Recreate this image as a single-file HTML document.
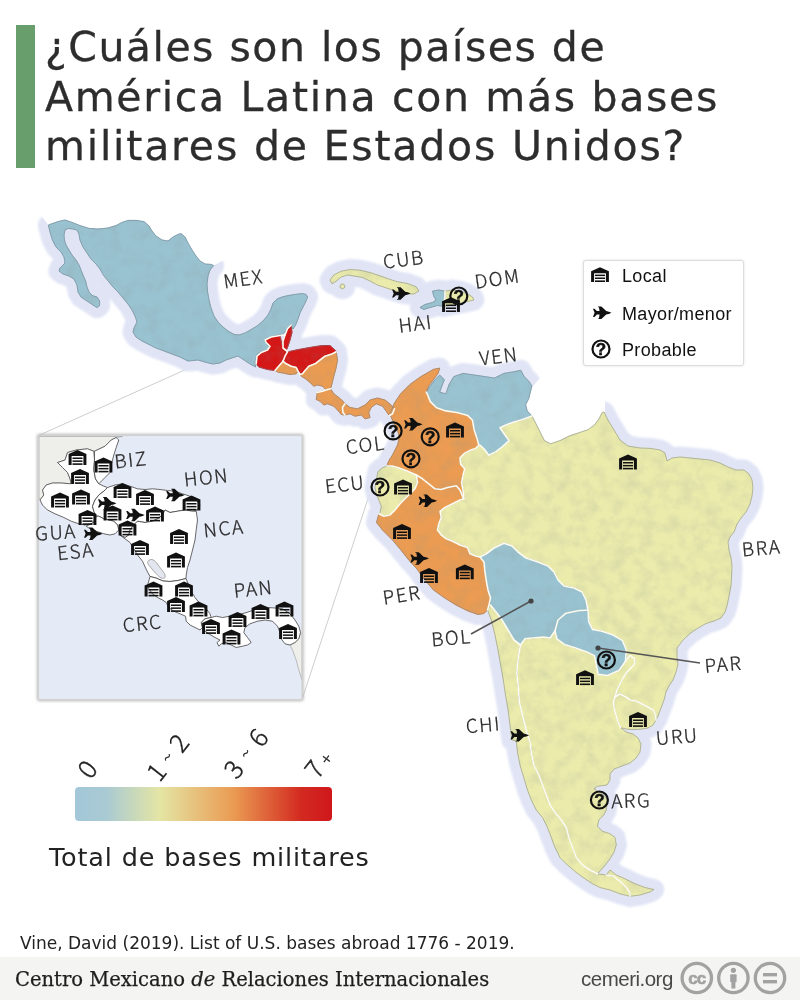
<!DOCTYPE html>
<html lang="es"><head><meta charset="utf-8"><title>Bases militares de Estados Unidos en América Latina</title>
<style>
html,body{margin:0;padding:0;background:#fff}
body{width:800px;height:1000px;position:relative;overflow:hidden;font-family:"Liberation Sans",sans-serif}
#bar{position:absolute;left:15.5px;top:25px;width:19.5px;height:142.5px;background:#689e6c}
h1{position:absolute;left:45px;top:22.8px;-webkit-text-stroke:0.3px #2d2d2d;margin:0;font-family:"DejaVu Sans","Liberation Sans",sans-serif;font-weight:400;font-size:41px;line-height:49.7px;color:#2d2d2d;white-space:nowrap;letter-spacing:1.5px}
#map{position:absolute;left:0;top:0}
#legend{position:absolute;left:583px;top:260px;width:159px;height:104px;border:1px solid #dcdcdc;border-radius:3px;background:#fff;box-shadow:0 0 3px rgba(0,0,0,.12)}
#legend div{position:absolute;left:38px;font-size:18px;letter-spacing:0.35px;color:#111;white-space:nowrap}
#total{position:absolute;left:49px;top:842px;font-family:"DejaVu Sans","Liberation Sans",sans-serif;font-size:25.5px;letter-spacing:0.84px;color:#222;white-space:nowrap}
#src{position:absolute;left:20px;top:933px;font-family:"DejaVu Sans","Liberation Sans",sans-serif;font-size:17px;color:#222;white-space:nowrap}
#foot{position:absolute;left:0;top:956.5px;width:800px;height:43.5px;background:#f4f5f3}
#foot .l{position:absolute;left:15px;top:11.8px;font-family:"DejaVu Serif","Liberation Serif",serif;font-size:19.55px;color:#1e1e1e;-webkit-text-stroke:0.25px #1e1e1e;white-space:nowrap}
#foot .r{position:absolute;left:581px;top:10px;font-size:20.5px;letter-spacing:-0.5px;color:#484848;white-space:nowrap}
</style></head><body>
<div id="bar"></div>
<h1>¿Cuáles son los países de<br><span style="letter-spacing:1.68px">América Latina con más bases</span><br><span style="letter-spacing:1.8px">militares de Estados Unidos?</span></h1>
<svg id="map" width="800" height="1000" viewBox="0 0 800 1000">
<defs>
<path id="cMEX" d="M48.4,225.0L58.0,221.6L65.0,220.0L72.0,222.4L80.0,225.6L89.0,228.4L98.0,229.0L108.0,228.0L116.0,225.6L122.0,222.4L128.0,220.4L136.0,220.4L144.0,221.6L149.0,226.0L152.0,231.0L156.0,236.0L162.0,240.0L168.0,241.0L173.0,237.0L178.0,234.4L181.0,233.6L185.0,237.0L188.0,243.0L192.0,250.0L196.0,256.0L200.0,261.0L205.0,264.0L211.0,264.4L213.6,265.6L210.0,270.0L208.0,276.0L207.0,284.0L207.6,292.0L209.0,300.0L211.0,308.0L214.0,316.0L218.0,322.0L223.0,327.0L228.0,331.0L234.0,334.4L239.0,335.0L245.0,333.0L251.0,329.6L257.0,326.0L263.0,321.0L268.0,315.0L271.0,309.0L273.0,303.0L277.0,299.0L282.0,297.0L288.0,295.6L295.0,294.4L302.0,293.6L306.0,294.4L307.6,297.0L305.6,302.0L303.0,307.0L300.0,313.0L298.0,319.0L295.6,325.0L293.0,329.0L291.0,326.0L288.0,329.0L285.0,332.0L282.0,334.4L274.0,336.0L268.0,338.0L264.0,340.0L267.0,344.0L270.0,348.0L266.0,350.0L261.0,352.0L257.0,354.0L256.0,358.0L255.0,362.0L255.6,367.0L250.0,364.0L244.0,360.0L238.0,356.0L232.0,358.0L226.0,360.0L220.0,363.0L213.0,364.0L206.0,362.4L198.0,360.0L188.0,361.0L180.0,357.0L172.0,354.0L164.0,351.0L156.0,348.0L148.0,344.0L142.0,341.0L136.0,337.0L133.0,332.0L134.0,328.0L137.0,322.0L135.0,316.0L132.0,310.0L128.0,304.0L123.0,298.0L118.0,292.0L113.0,287.0L109.0,282.0L104.0,276.0L100.0,269.0L96.0,264.0L91.0,259.0L87.0,253.0L83.0,247.0L80.0,240.0L79.0,234.0L77.0,230.0L73.0,229.0L68.0,228.4L65.0,230.0L64.0,235.0L64.4,240.0L66.0,245.0L69.0,250.0L72.0,255.0L76.0,260.0L79.0,265.0L81.0,270.0L83.0,275.0L85.6,281.0L87.0,287.0L89.0,292.0L92.4,295.6L97.0,297.0L99.6,301.0L99.6,305.6L97.0,307.6L93.0,305.0L87.0,301.0L81.0,297.0L78.0,292.0L77.0,285.0L74.0,279.0L69.0,276.0L63.0,274.0L59.0,271.0L60.0,268.0L65.0,263.0L64.0,257.0L61.0,252.0L56.0,247.0L52.4,240.0L50.0,232.0Z"/>
<path id="cCUB" d="M330.0,280.0L333.8,275.0L341.2,271.2L350.0,269.5L360.0,270.2L370.0,272.5L380.0,275.8L388.8,279.0L397.5,281.8L407.5,283.5L416.2,286.8L419.0,291.0L413.8,294.0L405.0,293.8L397.5,292.0L392.5,290.0L385.0,287.5L377.5,285.0L370.0,281.0L362.5,277.5L355.0,276.2L347.5,275.0L341.2,277.0L336.2,281.2L332.0,283.8Z"/>
<path id="cCUB2" d="M340.0,286.2L341.0,284.2L343.0,284.0L344.8,285.5L344.5,287.8L342.5,288.8L340.5,288.0Z"/>
<path id="cHAI" d="M432.5,291.2L438.8,290.0L445.0,291.2L445.0,297.5L443.8,302.5L442.5,306.2L437.5,305.5L430.0,307.5L423.8,309.5L420.0,307.5L425.0,304.5L432.5,302.5L436.2,300.0L433.8,296.2Z"/>
<path id="cDOM" d="M445.0,291.2L452.5,290.0L460.0,291.2L467.5,293.8L472.5,297.0L473.8,300.0L468.8,301.2L462.5,302.5L456.2,303.8L450.0,305.0L443.8,306.2L443.8,302.5L445.0,297.5Z"/>
<path id="cBRA" d="M478.8,445.3L480.3,445.3L485.0,450.0L488.8,455.3L495.9,451.6L502.2,446.9L509.1,440.6L505.0,435.0L500.0,427.8L505.9,425.0L514.1,421.9L524.1,419.1L531.9,415.9L535.0,421.9L539.7,431.2L544.4,440.6L550.6,443.8L560.0,440.6L569.4,435.9L578.8,432.8L588.1,429.7L594.4,425.0L599.1,418.8L602.2,412.5L604.0,412.0L608.0,420.0L614.0,430.0L620.0,440.0L628.0,446.0L640.0,448.0L650.0,448.4L660.0,450.0L665.0,453.0L667.0,461.0L672.0,458.0L680.0,457.0L690.0,458.0L700.0,459.0L710.0,460.0L720.0,463.0L728.0,467.0L736.0,470.0L744.0,470.0L749.0,474.0L752.0,480.0L753.0,488.0L752.0,496.0L750.0,504.0L746.0,512.0L741.0,518.0L737.0,524.0L734.0,532.0L730.0,537.0L728.0,542.0L729.0,550.0L731.0,558.0L732.0,566.0L731.6,576.0L731.0,586.0L729.0,596.0L727.0,606.0L725.0,612.0L721.0,618.0L714.0,621.0L706.0,623.5L698.0,628.0L690.0,633.5L683.0,640.0L677.0,648.0L677.0,657.0L678.0,664.0L676.0,672.0L673.0,680.0L669.0,686.0L666.0,692.0L664.0,700.0L661.0,708.0L658.0,716.0L656.0,720.0L655.6,715.0L653.0,710.0L648.0,707.0L642.0,704.0L636.0,701.0L630.0,700.0L626.0,697.0L620.0,694.0L615.0,697.0L617.0,690.0L620.0,684.0L623.0,678.0L627.0,672.0L632.0,667.0L635.0,663.5L634.5,658.5L630.0,655.5L625.5,661.3L626.3,650.0L622.5,640.6L613.1,635.0L601.9,631.3L592.5,629.4L588.8,621.9L588.0,610.0L586.0,600.0L582.0,592.0L574.0,588.0L564.0,586.0L558.0,580.0L554.0,572.0L548.0,566.0L538.0,562.0L526.0,558.0L518.0,552.0L512.0,546.0L504.0,543.2L494.0,548.0L486.0,554.0L480.0,557.0L476.3,556.3L470.0,553.8L467.5,547.5L460.0,545.0L452.5,541.3L446.3,538.8L441.3,535.0L437.5,530.0L438.8,523.8L441.3,517.5L440.0,511.3L445.0,507.5L452.5,503.8L460.0,500.0L463.8,498.8L463.1,490.6L461.6,482.8L463.1,475.0L464.7,468.8L460.6,464.1L460.0,457.8L464.7,453.1L470.9,450.0L475.6,448.4Z"/>
<path id="cVEN" d="M426.2,392.2L430.3,385.9L435.0,379.7L439.7,375.0L444.4,379.7L441.9,385.9L439.7,392.2L445.9,393.8L449.1,384.4L453.8,376.6L463.1,373.4L474.1,375.0L485.0,376.6L494.4,378.1L503.8,373.4L513.1,371.9L520.9,370.3L524.1,376.6L528.8,381.2L531.9,385.9L530.3,392.2L528.8,398.4L525.6,404.7L527.2,410.9L531.9,415.9L524.1,419.1L514.1,421.9L505.9,425.0L500.0,427.8L505.0,435.0L509.1,440.6L502.2,446.9L495.9,451.6L488.8,455.3L485.0,450.0L480.3,445.3L478.8,445.3L477.2,439.1L474.1,429.7L472.5,420.3L467.8,415.6L456.9,412.5L445.9,410.9L436.6,407.8L430.3,401.6L427.2,393.8Z"/>
<path id="cCOL" d="M391.2,410.9L394.4,403.1L400.6,393.8L410.0,384.4L420.9,376.6L433.4,369.4L439.7,368.1L438.1,373.4L433.4,379.7L428.8,385.9L426.2,392.2L427.2,393.8L430.3,401.6L436.6,407.8L445.9,410.9L456.9,412.5L467.8,415.6L472.5,420.3L474.1,429.7L477.2,439.1L478.8,445.3L475.6,448.4L470.9,450.0L464.7,453.1L460.0,457.8L460.6,464.1L464.7,468.8L463.1,475.0L461.6,482.8L463.1,490.6L463.8,498.8L462.5,496.3L460.0,490.0L456.3,485.8L447.5,487.5L441.0,489.5L435.0,488.8L428.8,483.8L422.5,478.8L416.3,475.0L407.0,471.0L397.5,467.5L392.0,466.0L387.0,466.0L388.0,462.5L390.0,458.8L392.5,455.0L395.0,450.0L397.5,445.0L398.8,440.0L398.8,435.0L397.5,430.0L395.0,425.0L392.5,420.0L390.0,414.4Z"/>
<path id="cECU" d="M387.0,466.0L392.0,466.0L397.5,467.5L407.0,471.0L416.3,475.0L417.5,482.5L415.0,488.8L410.0,493.8L405.0,498.8L400.0,503.8L395.0,510.0L390.0,515.0L383.8,516.3L378.8,513.8L380.0,512.5L381.3,506.3L378.8,500.0L376.3,493.8L375.0,487.5L376.3,480.0L378.0,471.5L382.0,468.0Z"/>
<path id="cPER" d="M378.8,513.8L383.8,516.3L390.0,515.0L395.0,510.0L400.0,503.8L405.0,498.8L410.0,493.8L415.0,488.8L417.5,482.5L416.3,475.0L422.5,478.8L428.8,483.8L435.0,488.8L441.0,489.5L447.5,487.5L456.3,485.8L460.0,490.0L462.5,496.3L463.8,498.8L460.0,500.0L452.5,503.8L445.0,507.5L440.0,511.3L441.3,517.5L438.8,523.8L437.5,530.0L441.3,535.0L446.3,538.8L452.5,541.3L460.0,545.0L467.5,547.5L470.0,553.8L476.3,556.3L480.0,557.0L484.0,562.0L485.0,572.0L486.5,582.0L488.0,590.0L490.5,598.0L489.0,605.0L487.5,610.0L484.0,613.5L478.0,614.5L468.0,611.0L456.0,605.0L444.0,597.5L433.5,590.0L424.5,579.5L417.0,569.0L408.8,560.0L400.5,549.5L392.3,539.8L387.5,535.0L382.5,530.0L376.5,522.5Z"/>
<path id="cBOL" d="M480.0,557.0L486.0,554.0L494.0,548.0L504.0,543.2L512.0,546.0L518.0,552.0L526.0,558.0L538.0,562.0L548.0,566.0L554.0,572.0L558.0,580.0L564.0,586.0L574.0,588.0L582.0,592.0L586.0,600.0L588.0,610.0L578.0,610.8L566.0,613.2L558.0,620.0L555.0,631.0L550.0,638.0L543.8,637.0L532.5,638.0L525.0,638.8L520.5,645.0L514.0,640.0L508.0,630.0L502.0,620.0L496.0,612.0L490.5,605.0L490.5,598.0L488.0,590.0L486.5,582.0L485.0,572.0L484.0,562.0Z"/>
<path id="cPAR" d="M555.0,631.0L558.0,620.0L566.0,613.2L578.0,610.8L588.0,610.0L588.8,621.9L592.5,629.4L601.9,631.3L613.1,635.0L622.5,640.6L626.3,650.0L625.5,661.3L618.8,670.6L607.5,675.5L598.1,674.4L596.3,665.0L594.4,655.6L586.9,651.9L575.6,648.1L564.4,644.4L556.9,638.8Z"/>
<path id="cARG" d="M520.5,645.0L525.0,638.8L532.5,638.0L543.8,637.0L550.0,638.0L555.0,631.0L556.9,638.8L564.4,644.4L575.6,648.1L586.9,651.9L594.4,655.6L596.3,665.0L598.1,674.4L607.5,675.5L618.8,670.6L625.5,661.3L630.0,655.5L634.5,658.5L635.0,663.5L632.0,667.0L627.0,672.0L623.0,678.0L620.0,684.0L617.0,690.0L615.0,697.0L613.5,701.0L614.0,708.0L616.0,715.0L618.0,722.0L620.5,727.5L626.0,732.0L633.0,734.0L638.0,738.0L641.0,744.0L640.0,752.0L636.0,758.0L630.0,763.0L622.0,766.0L614.0,769.0L610.0,774.0L610.0,780.0L607.0,785.0L597.5,786.3L593.8,788.8L602.5,793.8L607.5,800.0L606.3,810.0L603.8,815.0L598.8,820.0L597.5,826.3L602.5,831.3L610.0,833.8L615.0,837.5L616.3,845.0L613.8,852.5L610.0,858.8L606.3,863.8L601.0,870.0L597.5,873.8L590.0,870.0L582.5,865.0L576.3,857.5L572.5,847.5L568.8,837.5L566.3,827.5L561.3,820.0L555.0,812.5L550.0,805.0L546.3,795.0L542.5,785.0L538.8,775.0L533.8,765.0L531.3,752.5L530.0,742.0L526.9,732.5L523.1,717.5L519.4,702.5L518.3,687.5L516.8,672.5L518.3,657.5Z"/>
<path id="cCHI" d="M487.5,610.0L491.3,620.0L495.0,635.0L498.0,650.0L500.6,665.0L503.3,680.0L505.5,695.0L508.1,710.0L510.0,725.0L511.9,740.0L516.3,741.0L517.5,752.5L520.0,765.0L523.8,777.5L527.5,790.0L531.3,800.0L536.3,810.0L542.5,817.5L547.5,827.5L551.3,837.5L555.0,847.5L560.0,857.5L567.5,865.0L576.3,872.5L585.0,878.8L592.5,883.8L600.0,887.5L610.0,890.0L620.0,893.8L630.0,896.3L630.0,892.5L626.3,887.5L620.0,881.3L613.8,876.3L606.3,875.0L597.5,873.8L590.0,870.0L582.5,865.0L576.3,857.5L572.5,847.5L568.8,837.5L566.3,827.5L561.3,820.0L555.0,812.5L550.0,805.0L546.3,795.0L542.5,785.0L538.8,775.0L533.8,765.0L531.3,752.5L530.0,742.0L526.9,732.5L523.1,717.5L519.4,702.5L518.3,687.5L516.8,672.5L518.3,657.5L520.5,645.0L514.0,640.0L508.0,630.0L502.0,620.0L496.0,612.0L490.5,605.0Z"/>
<path id="cTDF" d="M606.3,875.0L610.0,870.0L616.3,875.0L625.0,878.8L635.0,883.8L645.0,887.5L653.8,889.5L650.0,892.0L640.0,895.0L630.0,896.3L630.0,892.5L626.3,887.5L620.0,881.3L613.8,876.3Z"/>
<path id="cURU" d="M615.0,697.0L620.0,694.0L626.0,697.0L630.0,700.0L636.0,701.0L642.0,704.0L648.0,707.0L653.0,710.0L655.6,715.0L656.0,720.0L653.0,725.0L648.0,728.0L640.0,729.3L632.0,729.6L626.0,729.0L620.5,727.5L618.0,722.0L616.0,715.0L614.0,708.0L613.5,701.0Z"/>
<path id="cGUA" d="M265.0,340.0L271.2,337.0L280.0,335.5L282.0,345.0L284.5,350.0L287.5,351.8L285.0,356.2L283.0,361.2L282.0,362.5L277.5,367.5L275.0,370.5L267.5,369.5L258.8,367.0L256.2,363.8L257.0,356.2L261.2,352.5L267.5,350.0L270.0,346.2L266.2,342.5Z"/>
<path id="cBIZ" d="M291.2,325.0L292.0,332.5L290.0,340.0L288.0,346.2L286.2,350.5L283.0,348.0L283.0,341.2L285.0,335.0L287.5,328.8Z"/>
<path id="cHON" d="M287.5,352.0L293.8,350.5L302.5,348.8L312.5,347.0L322.5,345.5L330.0,345.5L336.2,351.2L332.5,353.8L325.0,356.2L320.0,360.0L315.0,363.8L308.8,366.2L305.5,370.0L302.5,373.8L300.0,374.5L298.0,371.2L296.2,367.5L291.2,366.2L286.2,363.8L283.0,361.2L285.0,356.2Z"/>
<path id="cESA" d="M275.0,370.5L277.5,367.5L282.0,362.5L283.0,361.2L286.2,363.8L291.2,366.2L296.2,367.5L298.0,371.2L296.2,373.8L290.0,374.5L282.5,373.0L277.5,372.0Z"/>
<path id="cNCA" d="M336.2,351.8L337.5,360.0L336.2,367.5L333.8,376.2L332.0,383.8L330.5,388.8L326.2,390.0L322.5,386.2L317.5,385.0L313.8,386.2L310.0,382.5L305.5,378.8L301.2,376.2L300.0,374.5L302.5,373.8L305.5,370.0L308.8,366.2L315.0,363.8L320.0,360.0L325.0,356.2L332.5,353.8Z"/>
<path id="cCRC" d="M317.0,392.5L322.5,391.2L326.2,390.0L330.5,388.8L333.8,393.8L338.8,397.5L343.0,401.2L345.0,403.8L342.5,407.5L343.0,412.5L345.0,415.0L341.2,414.5L337.5,410.0L333.8,406.2L327.5,403.8L323.8,405.0L320.0,401.2L316.2,399.5L317.0,395.0Z"/>
<path id="cPAN" d="M345.0,403.8L350.0,407.5L357.5,408.8L365.0,405.0L370.0,400.0L377.5,398.0L385.0,400.0L391.2,405.0L394.5,408.8L392.5,413.8L388.8,415.0L386.2,411.2L382.5,406.2L376.2,403.8L371.2,407.5L368.8,412.5L370.0,417.5L365.0,418.8L361.2,415.0L355.0,416.2L350.0,413.8L345.0,415.0L343.0,412.5L342.5,407.5Z"/>
<filter id="blur" x="-10%" y="-10%" width="120%" height="120%"><feGaussianBlur stdDeviation="1.3"/></filter>
<filter id="sh" x="-10%" y="-10%" width="120%" height="120%"><feGaussianBlur stdDeviation="1.5"/></filter>
<linearGradient id="grad" x1="0" x2="1" y1="0" y2="0">
<stop offset="0" stop-color="#a3c7d8"/><stop offset="0.12" stop-color="#a9cad4"/><stop offset="0.33" stop-color="#e4e5a4"/><stop offset="0.62" stop-color="#ea9a52"/><stop offset="0.88" stop-color="#d32a20"/><stop offset="1" stop-color="#cf171c"/>
</linearGradient>
<g id="wh"><path d="M0,4L8.9,0L17.8,4V14.8H14.8V6H3V14.8H0Z"/><rect x="3.9" y="7.4" width="10" height="1.5"/><rect x="3.9" y="10.3" width="10" height="1.5"/><rect x="3.9" y="13.2" width="10" height="1.6"/></g>
<path id="jet" d="M18.5,6.25L15.8,5.1L13.2,4.5L8.4,0H5V0.7H5.9L6.6,4.5H3.9L1.5,2.2H0L1.6,6.25L0,10.3H1.5L3.9,8H6.6L5.9,11.8H5V12.5H8.4L13.2,8L15.8,7.4Z"/>
<g id="qm"><circle cx="0.4" r="8.5" fill="none" stroke="#111" stroke-width="2.2"/><text x="0.4" y="6" text-anchor="middle" font-family="Liberation Sans,sans-serif" font-weight="700" font-size="17" stroke="#111" stroke-width="0.5">?</text></g>
<clipPath id="haloclip"><path clip-rule="evenodd" d="M0,1000L0,214L40,214L48.4,225.0L58.0,221.6L65.0,220.0L72.0,222.4L80.0,225.6L89.0,228.4L98.0,229.0L108.0,228.0L116.0,225.6L122.0,222.4L128.0,220.4L136.0,220.4L144.0,221.6L149.0,226.0L152.0,231.0L156.0,236.0L162.0,240.0L168.0,241.0L173.0,237.0L178.0,234.4L181.0,233.6L185.0,237.0L188.0,243.0L192.0,250.0L196.0,256.0L200.0,261.0L205.0,264.0L211.0,264.4L213.6,265.6L228,258L800,150L800,1000ZM533,386L541,377L560,372L605,392L605,414L600,440L560,450L535,445L520,410L527,395Z"/></clipPath>
<filter id="relief" x="0" y="0" width="100%" height="100%"><feTurbulence type="fractalNoise" baseFrequency="0.075" numOctaves="4" seed="7"/><feColorMatrix type="matrix" values="0 0 0 0 0.25  0 0 0 0 0.3  0 0 0 0 0.3  1.6 0 0 0 -0.62"/></filter>
<clipPath id="landclip"><use href="#cMEX"/><use href="#cCUB"/><use href="#cCUB2"/><use href="#cHAI"/><use href="#cDOM"/><use href="#cBRA"/><use href="#cVEN"/><use href="#cCOL"/><use href="#cECU"/><use href="#cPER"/><use href="#cBOL"/><use href="#cPAR"/><use href="#cARG"/><use href="#cCHI"/><use href="#cTDF"/><use href="#cURU"/><use href="#cGUA"/><use href="#cBIZ"/><use href="#cHON"/><use href="#cESA"/><use href="#cNCA"/><use href="#cCRC"/><use href="#cPAN"/></clipPath>
<clipPath id="insetclip"><rect x="38.5" y="435.5" width="263.5" height="264"/></clipPath>
</defs>
<!-- connector lines from inset to map -->
<g stroke="#c8c8c8" stroke-width="0.9" fill="none"><path d="M38.5,435.5L263,335"/><path d="M302,699.5L385,447"/></g>
<!-- halo -->
<g clip-path="url(#haloclip)"><g fill="#e0e4f5" stroke="#e0e4f5" stroke-width="21" stroke-linejoin="round" filter="url(#blur)">
<use href="#cMEX"/>
<use href="#cCUB"/>
<use href="#cCUB2"/>
<use href="#cHAI"/>
<use href="#cDOM"/>
<use href="#cBRA"/>
<use href="#cVEN"/>
<use href="#cCOL"/>
<use href="#cECU"/>
<use href="#cPER"/>
<use href="#cBOL"/>
<use href="#cPAR"/>
<use href="#cARG"/>
<use href="#cCHI"/>
<use href="#cTDF"/>
<use href="#cURU"/>
<use href="#cGUA"/>
<use href="#cBIZ"/>
<use href="#cHON"/>
<use href="#cESA"/>
<use href="#cNCA"/>
<use href="#cCRC"/>
<use href="#cPAN"/>
</g></g>
<!-- fills -->
<g stroke-linejoin="round">
<use href="#cMEX" fill="#9ac3d1" stroke="#9ac3d1" stroke-width="1"/>
<use href="#cCUB" fill="#ebebac" stroke="#ebebac" stroke-width="1"/>
<use href="#cCUB2" fill="#ebebac" stroke="#ebebac" stroke-width="1"/>
<use href="#cHAI" fill="#9ac3d1" stroke="#9ac3d1" stroke-width="1"/>
<use href="#cDOM" fill="#ebebac" stroke="#ebebac" stroke-width="1"/>
<use href="#cBRA" fill="#ebebac" stroke="#ebebac" stroke-width="1"/>
<use href="#cVEN" fill="#9ac3d1" stroke="#9ac3d1" stroke-width="1"/>
<use href="#cCOL" fill="#eb9c52" stroke="#eb9c52" stroke-width="1"/>
<use href="#cECU" fill="#ebebac" stroke="#ebebac" stroke-width="1"/>
<use href="#cPER" fill="#eb9c52" stroke="#eb9c52" stroke-width="1"/>
<use href="#cBOL" fill="#9ac3d1" stroke="#9ac3d1" stroke-width="1"/>
<use href="#cPAR" fill="#9ac3d1" stroke="#9ac3d1" stroke-width="1"/>
<use href="#cARG" fill="#ebebac" stroke="#ebebac" stroke-width="1"/>
<use href="#cCHI" fill="#ebebac" stroke="#ebebac" stroke-width="1"/>
<use href="#cTDF" fill="#ebebac" stroke="#ebebac" stroke-width="1"/>
<use href="#cURU" fill="#ebebac" stroke="#ebebac" stroke-width="1"/>
<use href="#cGUA" fill="#d41818" stroke="#d41818" stroke-width="1"/>
<use href="#cBIZ" fill="#d41818" stroke="#d41818" stroke-width="1"/>
<use href="#cHON" fill="#d41818" stroke="#d41818" stroke-width="1"/>
<use href="#cESA" fill="#eb9c52" stroke="#eb9c52" stroke-width="1"/>
<use href="#cNCA" fill="#eb9c52" stroke="#eb9c52" stroke-width="1"/>
<use href="#cCRC" fill="#eb9c52" stroke="#eb9c52" stroke-width="1"/>
<use href="#cPAN" fill="#eb9c52" stroke="#eb9c52" stroke-width="1"/>
</g>
<g clip-path="url(#landclip)"><rect x="30" y="200" width="740" height="720" filter="url(#relief)" opacity="0.22"/></g>
<g fill="none" stroke="#6f7886" stroke-opacity="0.6" stroke-width="0.8" stroke-linejoin="round">
<use href="#cMEX"/>
<use href="#cCUB"/>
<use href="#cCUB2"/>
<use href="#cHAI"/>
<use href="#cDOM"/>
<use href="#cBRA"/>
<use href="#cVEN"/>
<use href="#cCOL"/>
<use href="#cECU"/>
<use href="#cPER"/>
<use href="#cBOL"/>
<use href="#cPAR"/>
<use href="#cARG"/>
<use href="#cCHI"/>
<use href="#cTDF"/>
<use href="#cURU"/>
<use href="#cGUA"/>
<use href="#cBIZ"/>
<use href="#cHON"/>
<use href="#cESA"/>
<use href="#cNCA"/>
<use href="#cCRC"/>
<use href="#cPAN"/>
</g>
<g fill="none" stroke="#fdfcf2" stroke-width="1.6" stroke-linejoin="round" stroke-linecap="round">

<path d="M426.2,392.2L427.2,393.8L430.3,401.6L436.6,407.8L445.9,410.9L456.9,412.5L467.8,415.6L472.5,420.3L474.1,429.7L477.2,439.1L478.8,445.3"/>
<path d="M478.8,445.3L475.6,448.4L470.9,450.0L464.7,453.1L460.0,457.8L460.6,464.1L464.7,468.8L463.1,475.0L461.6,482.8L463.1,490.6L463.8,498.8"/>
<path d="M416.3,475.0L422.5,478.8L428.8,483.8L435.0,488.8L441.0,489.5L447.5,487.5L456.3,485.8L460.0,490.0L462.5,496.3L463.8,498.8"/>
<path d="M387.0,466.0L392.0,466.0L397.5,467.5L407.0,471.0L416.3,475.0"/>
<path d="M378.8,513.8L383.8,516.3L390.0,515.0L395.0,510.0L400.0,503.8L405.0,498.8L410.0,493.8L415.0,488.8L417.5,482.5L416.3,475.0"/>
<path d="M463.8,498.8L460.0,500.0L452.5,503.8L445.0,507.5L440.0,511.3L441.3,517.5L438.8,523.8L437.5,530.0L441.3,535.0L446.3,538.8L452.5,541.3L460.0,545.0L467.5,547.5L470.0,553.8L476.3,556.3L480.0,557.0"/>
<path d="M480.0,557.0L484.0,562.0L485.0,572.0L486.5,582.0L488.0,590.0L490.5,598.0L489.0,605.0L487.5,610.0"/>
<path d="M480.0,557.0L486.0,554.0L494.0,548.0L504.0,543.2L512.0,546.0L518.0,552.0L526.0,558.0L538.0,562.0L548.0,566.0L554.0,572.0L558.0,580.0L564.0,586.0L574.0,588.0L582.0,592.0L586.0,600.0L588.0,610.0"/>
<path d="M588.0,610.0L578.0,610.8L566.0,613.2L558.0,620.0L555.0,631.0"/>
<path d="M555.0,631.0L550.0,638.0L543.8,637.0L532.5,638.0L525.0,638.8L520.5,645.0"/>
<path d="M520.5,645.0L514.0,640.0L508.0,630.0L502.0,620.0L496.0,612.0L490.5,605.0"/>
<path d="M588.0,610.0L588.8,621.9L592.5,629.4L601.9,631.3L613.1,635.0L622.5,640.6L626.3,650.0L625.5,661.3"/>
<path d="M555.0,631.0L556.9,638.8L564.4,644.4L575.6,648.1L586.9,651.9L594.4,655.6L596.3,665.0L598.1,674.4L607.5,675.5L618.8,670.6L625.5,661.3"/>
<path d="M625.5,661.3L630.0,655.5L634.5,658.5L635.0,663.5L632.0,667.0L627.0,672.0L623.0,678.0L620.0,684.0L617.0,690.0L615.0,697.0"/>
<path d="M615.0,697.0L613.5,701.0L614.0,708.0L616.0,715.0L618.0,722.0L620.5,727.5"/>
<path d="M615.0,697.0L620.0,694.0L626.0,697.0L630.0,700.0L636.0,701.0L642.0,704.0L648.0,707.0L653.0,710.0L655.6,715.0L656.0,720.0"/>
<path d="M520.5,645.0L518.3,657.5L516.8,672.5L518.3,687.5L519.4,702.5L523.1,717.5L526.9,732.5L530.0,742.0L531.3,752.5L533.8,765.0L538.8,775.0L542.5,785.0L546.3,795.0L550.0,805.0L555.0,812.5L561.3,820.0L566.3,827.5L568.8,837.5L572.5,847.5L576.3,857.5L582.5,865.0L590.0,870.0L597.5,873.8"/>
<path d="M478.8,445.3L480.3,445.3L485.0,450.0L488.8,455.3L495.9,451.6L502.2,446.9L509.1,440.6L505.0,435.0L500.0,427.8L505.9,425.0L514.1,421.9L524.1,419.1L531.9,415.9"/>
<path d="M445.0,291.2L445.0,297.5L443.8,302.5L443.8,306.2"/>
<path d="M606.3,875.0L613.8,876.3L620.0,881.3L626.3,887.5L630.0,892.5L630.0,896.3"/>
<path d="M394.5,408.8L392.5,413.8L389.5,415.5"/>
<path d="M256.2,363.8L257.0,356.2L261.2,352.5L267.5,350.0L270.0,346.2L266.2,342.5L265.0,340.0L271.2,337.0L280.0,335.5L285.0,335.0"/>
<path d="M291.2,325.0L287.5,328.8L285.0,335.0L283.0,341.2L283.0,348.0L286.2,350.5L287.5,351.8"/>
<path d="M287.5,351.8L285.0,356.2L283.0,361.2"/>
<path d="M283.0,361.2L282.0,362.5L277.5,367.5L275.0,370.5"/>
<path d="M283.0,361.2L286.2,363.8L291.2,366.2L296.2,367.5L298.0,371.2L300.0,374.5"/>
<path d="M300.0,374.5L302.5,373.8L305.5,370.0L308.8,366.2L315.0,363.8L320.0,360.0L325.0,356.2L332.5,353.8L336.2,351.8"/>
<path d="M317.0,392.5L322.5,391.2L326.2,390.0L330.5,388.8"/>
<path d="M345.0,403.8L342.5,407.5L343.0,412.5L345.0,415.0"/>
</g>
<!-- leader lines -->
<g stroke="#555" stroke-width="1.6" fill="#444"><path d="M531,601L471,634"/><path d="M598,648L700,663"/><circle cx="531" cy="601" r="2.6" stroke="none"/><circle cx="598" cy="648" r="2.6" stroke="none"/></g>
<!-- inset -->
<rect x="37" y="434" width="266.5" height="267" rx="2" fill="#b8b8b8" filter="url(#sh)"/>
<rect x="38.5" y="435.5" width="263.5" height="264" fill="#e5eaf7"/>
<g clip-path="url(#insetclip)">
<path d="M39.0,436.5L122.5,436.5L116.2,437.5L111.2,440.0L105.0,446.2L94.5,451.2L87.5,448.8L76.2,450.0L67.5,452.5L65.0,460.0L57.5,462.5L62.5,467.5L67.5,472.5L70.0,478.8L71.2,483.8L61.2,483.0L52.5,483.0L46.2,485.0L42.5,490.0L43.8,495.0L40.0,500.0L39.0,497.5Z" fill="#eeeeea" stroke="#999" stroke-width="0.6"/>
<path d="M295.0,642.5L298.8,638.8L300.5,632.5L302.0,633.8L302.0,680.0L298.8,670.0L296.2,660.0L292.5,650.0L290.0,645.0Z" fill="#eeeeea" stroke="#999" stroke-width="0.6"/>
<path d="M57.5,462.5L65.0,460.0L67.5,452.5L76.2,450.0L87.5,448.8L93.8,451.2L94.5,460.0L93.8,470.0L95.5,478.8L98.8,483.8L103.8,486.2L107.5,487.5L103.8,491.2L98.8,495.0L95.0,500.0L92.5,506.2L93.8,511.2L96.2,516.2L95.0,521.2L91.2,523.8L85.0,525.0L78.8,523.8L71.2,521.2L63.8,517.5L55.0,513.8L47.5,510.0L42.5,505.0L40.0,500.0L43.8,495.0L42.5,490.0L46.2,485.0L52.5,483.0L61.2,483.0L71.2,483.8L70.0,478.8L67.5,472.5L62.5,467.5Z" fill="#ffffff" stroke="#444" stroke-width="0.8" stroke-linejoin="round"/>
<path d="M94.5,451.2L105.0,446.2L111.2,440.0L116.2,437.5L118.8,440.0L116.2,447.5L113.8,455.0L111.2,465.0L110.0,472.5L105.0,477.5L100.0,482.5L98.8,483.8L95.5,478.8L93.8,470.0L94.5,460.0Z" fill="#ffffff" stroke="#444" stroke-width="0.8" stroke-linejoin="round"/>
<path d="M107.5,487.5L115.0,485.0L122.5,483.8L130.0,486.2L137.5,488.8L145.0,489.5L152.5,488.8L160.0,489.5L167.5,490.5L175.0,491.2L182.5,493.8L190.0,496.2L196.2,500.0L200.0,505.0L197.5,510.0L192.5,511.2L185.0,510.0L177.5,511.2L170.0,512.5L165.0,510.0L162.5,515.0L157.5,518.8L152.5,521.2L145.0,522.5L137.5,521.2L133.8,525.0L130.0,530.0L128.8,535.0L125.0,537.5L120.0,535.0L118.8,530.0L117.5,525.0L113.8,521.2L108.8,520.0L103.8,518.8L98.8,516.2L96.2,516.2L93.8,511.2L92.5,506.2L95.0,500.0L98.8,495.0L103.8,491.2Z" fill="#ffffff" stroke="#444" stroke-width="0.8" stroke-linejoin="round"/>
<path d="M91.2,523.8L95.0,521.2L96.2,516.2L98.8,516.2L103.8,518.8L108.8,520.0L113.8,521.2L117.5,525.0L118.8,530.0L115.0,533.8L110.0,535.0L103.8,533.8L96.2,531.2L90.0,528.8L86.2,526.2Z" fill="#ffffff" stroke="#444" stroke-width="0.8" stroke-linejoin="round"/>
<path d="M120.0,535.0L125.0,537.5L128.8,535.0L130.0,530.0L133.8,525.0L137.5,521.2L145.0,522.5L152.5,521.2L157.5,518.8L162.5,515.0L165.0,510.0L170.0,512.5L177.5,511.2L185.0,510.0L192.5,511.2L196.2,511.2L197.5,520.0L196.2,530.0L195.0,540.0L192.5,550.0L190.0,560.0L187.5,567.5L186.2,575.0L186.0,578.5L178.0,580.5L170.0,581.5L163.0,581.0L156.0,578.0L150.0,576.5L146.5,570.0L142.5,561.2L137.5,555.0L133.8,548.8L130.0,542.5L125.0,538.8Z" fill="#ffffff" stroke="#444" stroke-width="0.8" stroke-linejoin="round"/>
<path d="M148.0,561.2C148.5,560.5 150.0,559.5 151.2,559.5C152.4,559.5 153.5,559.9 155.0,561.2C156.5,562.5 158.4,565.4 160.0,567.5C161.6,569.6 163.7,572.1 164.5,573.8C165.3,575.5 165.6,576.8 165.0,577.5C164.4,578.2 162.7,578.6 161.2,578.0C159.7,577.4 157.9,575.5 156.2,573.8C154.5,572.1 152.6,569.7 151.2,568.0C149.8,566.3 148.5,564.9 148.0,563.8C147.5,562.7 147.5,561.9 148.0,561.2Z" fill="#e3e6ee" stroke="#777" stroke-width="0.6"/>
<path d="M150.0,576.5L156.0,578.0L163.0,581.0L170.0,581.5L178.0,580.5L186.0,578.5L191.2,591.2L195.0,597.5L200.0,603.8L206.2,608.8L210.0,613.8L211.2,617.5L205.0,618.8L201.2,622.5L202.5,627.5L200.0,630.0L195.0,627.5L190.0,625.0L186.2,621.2L185.5,616.2L180.0,613.8L173.8,611.2L168.8,607.5L166.2,602.5L162.5,600.0L157.5,597.5L152.5,593.8L148.8,588.8L148.0,583.8Z" fill="#ffffff" stroke="#444" stroke-width="0.8" stroke-linejoin="round"/>
<path d="M211.2,617.5L216.2,616.2L222.5,617.5L230.0,616.2L237.5,614.5L245.0,613.0L252.5,610.5L260.0,606.2L267.5,607.5L275.0,608.0L282.5,608.8L290.0,613.8L295.0,620.0L298.8,626.2L300.5,632.5L298.8,638.8L295.0,642.5L290.0,645.0L285.0,643.8L281.2,638.8L280.0,632.5L277.5,626.2L272.5,621.2L265.0,620.0L257.5,621.2L250.0,623.8L245.0,627.5L243.8,632.5L247.5,637.5L251.2,642.5L247.5,645.0L242.5,646.2L236.2,647.5L231.2,645.0L226.2,642.5L221.2,643.8L218.8,646.2L217.0,642.5L220.0,640.0L215.0,637.5L208.8,633.8L203.8,630.0L202.5,627.5L201.2,622.5L205.0,618.8Z" fill="#ffffff" stroke="#444" stroke-width="0.8" stroke-linejoin="round"/>
</g>
<rect x="38.5" y="435.5" width="263.5" height="264" fill="none" stroke="#d2d2d2" stroke-width="1.2"/>
<!-- colour bar -->
<rect x="75" y="787" width="257" height="34" rx="4" fill="url(#grad)"/>
<g font-family="'Noto Sans CJK JP','Liberation Sans',sans-serif" font-weight="300" font-size="25.8" fill="#222" stroke="#222" stroke-width="0.35" text-anchor="middle">
<g transform="translate(87.2 769.2) rotate(-52)"><text x="0" y="9.5">0</text></g>
<g transform="translate(156.2 771.9) rotate(-52)"><text x="0" y="9.5">1</text><text x="18.3" y="6" font-size="17">~</text><text x="36.7" y="9.5">2</text></g>
<g transform="translate(233.6 769.1) rotate(-52)"><text x="0" y="9.5">3</text><text x="20" y="6" font-size="17">~</text><text x="40.1" y="9.5">6</text></g>
<g transform="translate(314.2 769.1) rotate(-52)"><text x="0" y="9.5">7</text><text x="15.6" y="9.6" font-size="17">+</text></g>
</g>
<!-- labels -->
<g font-family="'Noto Sans CJK JP','Liberation Sans',sans-serif" font-weight="300" font-size="18.8" fill="#2a2a2a" stroke="#2a2a2a" stroke-width="0.3" letter-spacing="1.6">
<text x="243.5" y="285.8" transform="rotate(-8 243.5 279)" text-anchor="middle">MEX</text>
<text x="403.8" y="266.2" transform="rotate(-7 403.8 259.4)" text-anchor="middle">CUB</text>
<text x="497.5" y="285.6" transform="rotate(-8 497.5 278.8)" text-anchor="middle">DOM</text>
<text x="415.6" y="330.6" transform="rotate(-7 415.6 323.8)" text-anchor="middle">HAI</text>
<text x="498.8" y="363.1" transform="rotate(-7 498.8 356.3)" text-anchor="middle">VEN</text>
<text x="365.6" y="451.8" transform="rotate(-7 365.6 445)" text-anchor="middle">COL</text>
<text x="345" y="491.2" transform="rotate(-6 345 484.4)" text-anchor="middle">ECU</text>
<text x="402" y="601.8" transform="rotate(-9 402 595)" text-anchor="middle">PER</text>
<text x="451.5" y="644.8" transform="rotate(-5 451.5 638)" text-anchor="middle">BOL</text>
<text x="761.6" y="554.9" transform="rotate(-5 761.6 548.1)" text-anchor="middle">BRA</text>
<text x="723.5" y="671.3" transform="rotate(-5 723.5 664.5)" text-anchor="middle">PAR</text>
<text x="483.3" y="731.8" transform="rotate(-5 483.3 725)" text-anchor="middle">CHI</text>
<text x="677.3" y="743.5" transform="rotate(-5 677.3 736.7)" text-anchor="middle">URU</text>
<text x="631.2" y="807.6" transform="rotate(-2 631.2 800.8)" text-anchor="middle">ARG</text>
<text x="131" y="466.8" transform="rotate(-6 131 460)" text-anchor="middle">BIZ</text>
<text x="206.5" y="484.3" transform="rotate(-6 206.5 477.5)" text-anchor="middle">HON</text>
<text x="224" y="535.3" transform="rotate(-6 224 528.5)" text-anchor="middle">NCA</text>
<text x="56" y="539.3" transform="rotate(-4 56 532.5)" text-anchor="middle">GUA</text>
<text x="76" y="558.3" transform="rotate(-6 76 551.5)" text-anchor="middle">ESA</text>
<text x="253.5" y="595.8" transform="rotate(-6 253.5 589)" text-anchor="middle">PAN</text>
<text x="142.5" y="630.3" transform="rotate(-6 142.5 623.5)" text-anchor="middle">CRC</text>
</g>
</svg>
<div id="legend"><div style="top:5.3px">Local</div><div style="top:42.5px">Mayor/menor</div><div style="top:78.5px">Probable</div></div>
<svg id="icons" width="800" height="1000" viewBox="0 0 800 1000" style="position:absolute;left:0;top:0" fill="#111">
<use href="#wh" x="68.6" y="450.1"/><use href="#wh" x="94.6" y="457.6"/><use href="#wh" x="71.1" y="469.1"/><use href="#wh" x="51.1" y="492.6"/><use href="#wh" x="72.1" y="489.6"/><use href="#wh" x="113.6" y="483.1"/><use href="#wh" x="136.1" y="490.1"/><use href="#wh" x="78.6" y="510.1"/><use href="#wh" x="103.6" y="505.6"/><use href="#wh" x="146.1" y="506.6"/><use href="#wh" x="118.6" y="520.6"/><use href="#wh" x="182.6" y="495.6"/><use href="#wh" x="170.1" y="529.1"/><use href="#wh" x="131.1" y="540.1"/><use href="#wh" x="167.1" y="552.6"/><use href="#wh" x="144.6" y="581.6"/><use href="#wh" x="175.1" y="581.6"/><use href="#wh" x="167.1" y="597.1"/><use href="#wh" x="189.6" y="601.6"/><use href="#wh" x="202.1" y="619.1"/><use href="#wh" x="228.6" y="612.1"/><use href="#wh" x="222.6" y="629.6"/><use href="#wh" x="251.6" y="604.1"/><use href="#wh" x="275.6" y="601.6"/><use href="#wh" x="279.1" y="624.1"/><use href="#wh" x="442.1" y="297.2"/><use href="#wh" x="446.1" y="422.6"/><use href="#wh" x="394.1" y="479.6"/><use href="#wh" x="619.1" y="454.6"/><use href="#wh" x="393.1" y="524.1"/><use href="#wh" x="420.1" y="568.1"/><use href="#wh" x="455.9" y="564.4"/><use href="#wh" x="576.1" y="670.3"/><use href="#wh" x="629.1" y="712.1"/><use href="#wh" x="591.1" y="267.2"/>
<use href="#jet" x="98.0" y="497.1"/><use href="#jet" x="126.2" y="508.8"/><use href="#jet" x="166.2" y="488.8"/><use href="#jet" x="84.0" y="527.5"/><use href="#jet" x="392.1" y="287.2"/><use href="#jet" x="404.1" y="418.1"/><use href="#jet" x="418.6" y="494.6"/><use href="#jet" x="410.4" y="552.2"/><use href="#jet" x="510.5" y="729.1"/><use href="#jet" x="593.0" y="306.6"/>
<use href="#qm" x="458.4" y="296.0"/><use href="#qm" x="392.7" y="430.9"/><use href="#qm" x="429.8" y="436.8"/><use href="#qm" x="410.6" y="458.8"/><use href="#qm" x="379.6" y="487.0"/><use href="#qm" x="606.0" y="660.0"/><use href="#qm" x="599.0" y="800.0"/><use href="#qm" x="600.6" y="349.0"/>
</svg>
<div id="total">Total de bases militares</div>
<div id="src">Vine, David (2019). List of U.S. bases abroad 1776 - 2019.</div>
<div id="foot"><span class="l">Centro Mexicano <i>de</i> Relaciones Internacionales</span><span class="r">cemeri.org</span>
<svg width="120" height="43" viewBox="0 0 120 43" style="position:absolute;left:680px;top:0">
<g fill="none" stroke="#a2a2a2" stroke-width="3.3"><circle cx="16.8" cy="21" r="14.7"/><circle cx="53.4" cy="21" r="14.7"/><circle cx="90" cy="21" r="14.7"/></g>
<g fill="#a2a2a2"><text x="16.8" y="26.5" text-anchor="middle" font-family="Liberation Sans,sans-serif" font-weight="700" font-size="17" letter-spacing="-0.8" stroke="#a2a2a2" stroke-width="0.6">cc</text>
<circle cx="53.4" cy="13.3" r="2.6"/><rect x="50.2" y="17.3" width="6.4" height="8" rx="1"/><rect x="51.4" y="24" width="4" height="7.5"/>
<rect x="83" y="16" width="14" height="3.4"/><rect x="83" y="23" width="14" height="3.4"/></g>
</svg></div>
</body></html>
